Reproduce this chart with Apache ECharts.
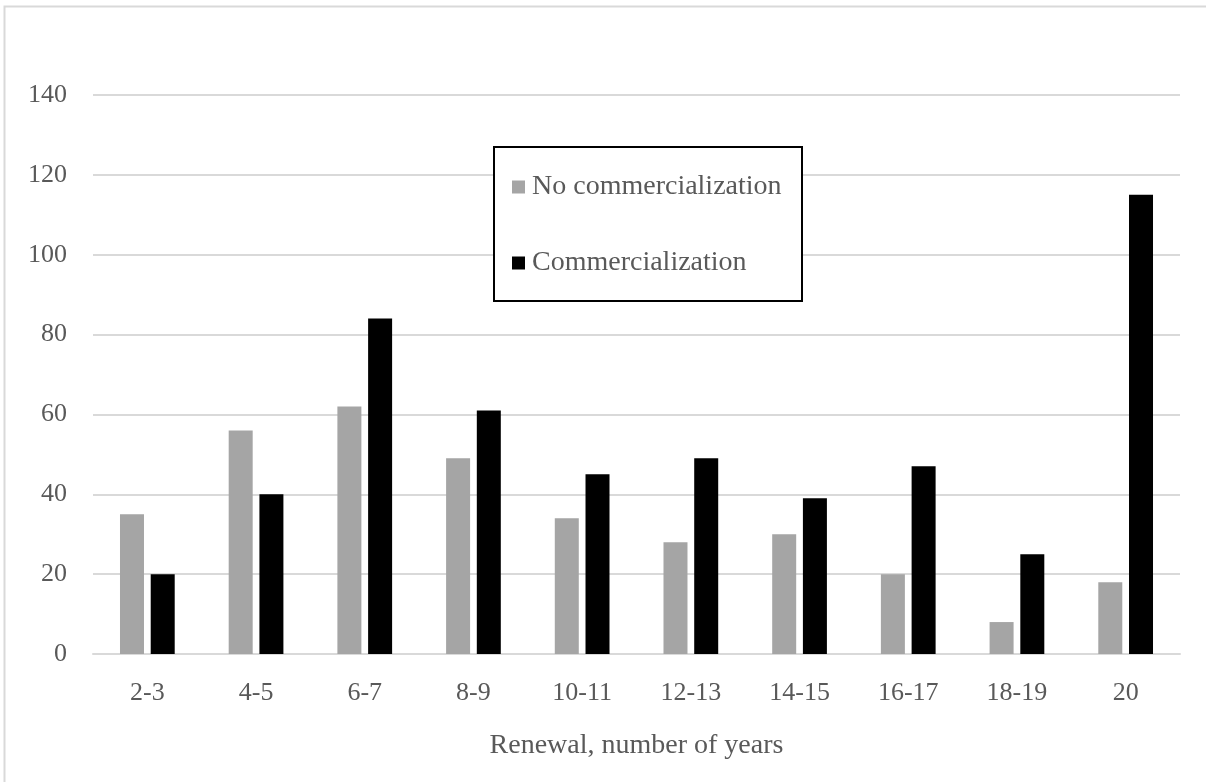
<!DOCTYPE html>
<html>
<head>
<meta charset="utf-8">
<script src="https://cdn.jsdelivr.net/npm/echarts@6/dist/echarts.min.js"></script>
<style>
  html, body { margin: 0; padding: 0; background: #fff; }
  #chart { width: 1206px; height: 782px; }
</style>
</head>
<body>
<div id="chart"></div>
<script>
// categories and values
var categories = ['2-3', '4-5', '6-7', '8-9', '10-11', '12-13', '14-15', '16-17', '18-19', '20'];
var noCommercialization = [35, 56, 62, 49, 34, 28, 30, 20, 8, 18];
var commercialization = [20, 40, 84, 61, 45, 49, 39, 47, 25, 115];

var textColor = '#595959';
var fontFamily = '"Liberation Serif", "Times New Roman", serif';

var myChart = echarts.init(document.getElementById('chart'));

myChart.setOption({
    animation: false,
    textStyle: { fontFamily: fontFamily },
    grid: {
        left: 93,
        right: 26,
        top: 95,
        bottom: 128,
        containLabel: false
    },
    // outer frame and legend box
    graphic: [
        {
            type: 'rect',
            shape: { x: 4.5, y: 6.5, width: 1210, height: 800 },
            style: { fill: 'none', stroke: '#d9d9d9', lineWidth: 2 },
            silent: true
        },
        {
            type: 'rect',
            shape: { x: 494, y: 147, width: 308, height: 154 },
            style: { fill: '#fff', stroke: '#000', lineWidth: 2 },
            z: 5,
            silent: true
        }
    ],
    legend: {
        orient: 'vertical',
        left: 507,
        top: 168,
        itemWidth: 13,
        itemHeight: 13,
        itemGap: 48,
        icon: 'rect',
        z: 10,
        textStyle: { color: textColor, fontSize: 28, fontFamily: fontFamily, padding: [0, 0, 0, 2] },
        data: ['No commercialization', 'Commercialization']
    },
    xAxis: {
        type: 'category',
        data: categories,
        name: 'Renewal, number of years',
        nameLocation: 'middle',
        nameGap: 78,
        nameTextStyle: { color: textColor, fontSize: 28, fontFamily: fontFamily },
        axisLine: { lineStyle: { color: '#d9d9d9', width: 2 } },
        axisTick: { show: false },
        axisLabel: { color: textColor, fontSize: 26, margin: 26, fontFamily: fontFamily }
    },
    yAxis: {
        type: 'value',
        min: 0,
        max: 140,
        interval: 20,
        axisLine: { show: false },
        axisTick: { show: false },
        axisLabel: { color: textColor, fontSize: 26, margin: 26, fontFamily: fontFamily },
        splitLine: { lineStyle: { color: '#d9d9d9', width: 2 } }
    },
    series: [
        {
            name: 'No commercialization',
            type: 'bar',
            data: noCommercialization,
            barWidth: 24,
            barGap: '28%',
            itemStyle: { color: '#a5a5a5' }
        },
        {
            name: 'Commercialization',
            type: 'bar',
            data: commercialization,
            barWidth: 24,
            itemStyle: { color: '#000000' }
        }
    ]
});
</script>
</body>
</html>
